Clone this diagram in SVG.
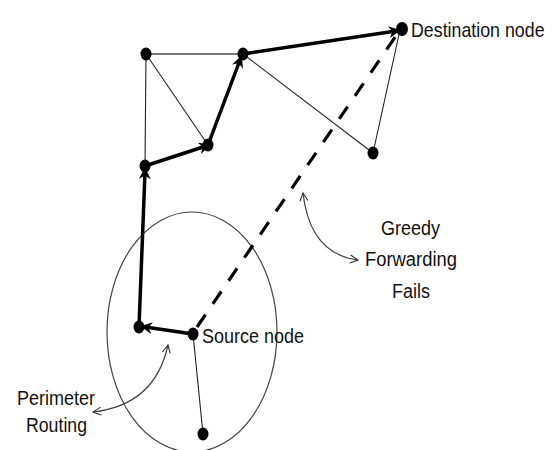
<svg xmlns="http://www.w3.org/2000/svg" width="557" height="450" viewBox="0 0 557 450">
<defs>
<marker id="tri" viewBox="0 0 10 10" refX="6" refY="5" markerWidth="3.4" markerHeight="3.4" orient="auto" markerUnits="strokeWidth">
<path d="M0,0 L10,5 L0,10 L3,5 Z" fill="#000"/>
</marker>
<marker id="vee" viewBox="0 0 10 10" refX="9" refY="5" markerWidth="10" markerHeight="10" orient="auto-start-reverse" markerUnits="userSpaceOnUse">
<path d="M1,1 L9,5 L1,9" fill="none" stroke="#333" stroke-width="1.1"/>
</marker>
<style>
.thin{stroke:#222;stroke-width:1.1;fill:none}
.gray{stroke:#777;stroke-width:2;fill:none}
.thick{stroke:#000;stroke-width:3.5;fill:none;stroke-linecap:round}
.dash{stroke:#000;stroke-width:3.2;fill:none;stroke-dasharray:15 13}
.curve{stroke:#444;stroke-width:1.2;fill:none}
.node{fill:#000}
.lbl{font-family:"Liberation Sans",Arial,sans-serif;font-size:20px;fill:#111}
</style>
</defs>
<rect width="557" height="450" fill="#fff"/>
<ellipse cx="192" cy="332" rx="85" ry="120" fill="none" stroke="#444" stroke-width="1.2"/>
<g id="connectors">
<line class="gray" x1="146" y1="54" x2="243" y2="54"/>
<line class="thin" x1="146" y1="54" x2="145" y2="166"/>
<line class="thin" x1="146" y1="54" x2="208" y2="145"/>
<line class="thin" x1="243" y1="54" x2="373" y2="153"/>
<line class="thin" x1="373" y1="153" x2="400" y2="30"/>
<line class="thin" x1="193" y1="334" x2="203" y2="434"/>
<line class="dash" x1="197" y1="327" x2="400" y2="30"/>
<line class="thick" x1="193" y1="334" x2="145" y2="327" marker-end="url(#tri)"/>
<line class="thick" x1="139" y1="327" x2="145" y2="172" marker-end="url(#tri)"/>
<line class="thick" x1="145" y1="166" x2="206" y2="146" marker-end="url(#tri)"/>
<line class="thick" x1="208" y1="145" x2="240" y2="60" marker-end="url(#tri)"/>
<line class="thick" x1="243" y1="54" x2="396" y2="31" marker-end="url(#tri)"/>
<path class="curve" d="M303,193 Q310,254 358,260" marker-start="url(#vee)" marker-end="url(#vee)"/>
<path class="curve" d="M168,345 Q155,405 93,412" marker-start="url(#vee)" marker-end="url(#vee)"/>
</g>
<g id="n-a"><ellipse class="node" cx="146" cy="54" rx="5.5" ry="6.5"/></g>
<g id="n-b"><ellipse class="node" cx="243" cy="54" rx="5.5" ry="6.5"/></g>
<g id="n-c"><ellipse class="node" cx="208" cy="145" rx="5.5" ry="6.5"/></g>
<g id="n-d"><ellipse class="node" cx="145" cy="166" rx="5.5" ry="6.5"/></g>
<g id="n-e"><ellipse class="node" cx="373" cy="153" rx="5.5" ry="6.5"/></g>
<g id="n-f"><ellipse class="node" cx="139" cy="327" rx="5.5" ry="6.5"/></g>
<g id="n-g"><ellipse class="node" cx="203" cy="434" rx="5.5" ry="6.5"/></g>
<g id="n-dest"><ellipse class="node" cx="402" cy="29" rx="6" ry="7"/><text class="lbl" transform="translate(411,37) scale(1,1.1)" style="font-size:17.8px">Destination node</text></g>
<g id="n-src"><ellipse class="node" cx="193" cy="334" rx="5.5" ry="6.5"/><text class="lbl" x="202" y="343" textLength="102" lengthAdjust="spacingAndGlyphs">Source node</text></g>
<g id="lbl-greedy">
<text class="lbl" x="381" y="235" textLength="59" lengthAdjust="spacingAndGlyphs">Greedy</text>
<text class="lbl" x="365" y="266" textLength="92" lengthAdjust="spacingAndGlyphs">Forwarding</text>
<text class="lbl" x="392" y="298" textLength="38" lengthAdjust="spacingAndGlyphs">Fails</text>
</g>
<g id="lbl-perimeter">
<text class="lbl" x="17" y="405" textLength="78" lengthAdjust="spacingAndGlyphs">Perimeter</text>
<text class="lbl" x="26" y="432" textLength="61" lengthAdjust="spacingAndGlyphs">Routing</text>
</g>
</svg>
